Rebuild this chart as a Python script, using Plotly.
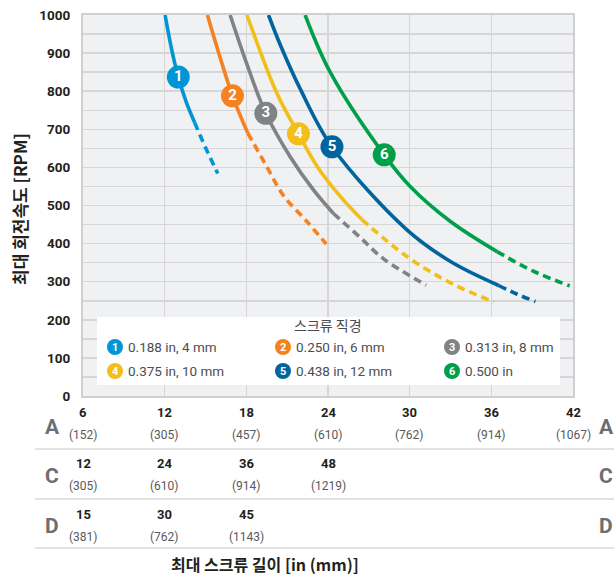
import plotly.graph_objects as go

# ---------------- data ----------------
SERIES_NUM = ["1", "2", "3", "4", "5", "6"]
SERIES_LABELS = ["0.188 in, 4 mm", "0.250 in, 6 mm", "0.313 in, 8 mm",
                 "0.375 in, 10 mm", "0.438 in, 12 mm", "0.500 in"]
COLORS = ["#0096D6", "#F58220", "#808285", "#F2BE1A", "#00649E", "#00A04B"]

# curve 1
c1_solid_x = [12.03, 12.5, 13.0, 13.6, 14.2]
c1_solid_y = [1000, 912, 837, 770, 718]
c1_dash_x = [14.2, 15.0, 15.9]
c1_dash_y = [718, 652, 584]
c1_mark = (13.0, 837)
# curve 2
c2_solid_x = [15.14, 15.95, 16.98, 18.11]
c2_solid_y = [1000, 903, 788, 690]
c2_dash_x = [18.11, 19.5, 20.73, 22.45, 23.87]
c2_dash_y = [690, 602, 526, 458, 399]
c2_mark = (16.98, 788)
# curve 3
c3_solid_x = [16.81, 18.1, 19.43, 21.22, 22.93, 24.4]
c3_solid_y = [1000, 865, 742, 628, 541, 479]
c3_dash_x = [24.4, 26.4, 28.08, 31.22]
c3_dash_y = [479, 415, 360, 291]
c3_mark = (19.43, 742)
# curve 4
c4_solid_x = [18.04, 19.75, 20.49, 21.83, 23.18, 24.9, 26.49]
c4_solid_y = [1000, 836, 776, 688, 604, 524, 463]
c4_dash_x = [26.49, 29.8, 33.0, 36.17]
c4_dash_y = [463, 366, 297, 247]
c4_mark = (21.83, 688)
# curve 5
c5_solid_x = [19.63, 20.49, 21.96, 24.29, 29.8, 33.0, 36.54]
c5_solid_y = [1000, 922, 806, 654, 436, 353, 290]
c5_dash_x = [36.54, 37.9, 39.24]
c5_dash_y = [290, 267, 248]
c5_mark = (24.29, 654)
# curve 6
c6_solid_x = [22.32, 24.16, 28.13, 30.04, 33.0, 36.42]
c6_solid_y = [1000, 850, 633, 550, 458, 379]
c6_dash_x = [36.42, 39.0, 41.76]
c6_dash_y = [379, 329, 289]
c6_mark = (28.13, 633)

CURVES = [
    (c1_solid_x, c1_solid_y, c1_dash_x, c1_dash_y, c1_mark),
    (c2_solid_x, c2_solid_y, c2_dash_x, c2_dash_y, c2_mark),
    (c3_solid_x, c3_solid_y, c3_dash_x, c3_dash_y, c3_mark),
    (c4_solid_x, c4_solid_y, c4_dash_x, c4_dash_y, c4_mark),
    (c5_solid_x, c5_solid_y, c5_dash_x, c5_dash_y, c5_mark),
    (c6_solid_x, c6_solid_y, c6_dash_x, c6_dash_y, c6_mark),
]

Y_TICKS = [0, 100, 200, 300, 400, 500, 600, 700, 800, 900, 1000]
A_TICKS = [6, 12, 18, 24, 30, 36, 42]
A_MM = ["(152)", "(305)", "(457)", "(610)", "(762)", "(914)", "(1067)"]
C_TICKS = [12, 24, 36, 48]
C_MM = ["(305)", "(610)", "(914)", "(1219)"]
D_TICKS = [15, 30, 45]
D_MM = ["(381)", "(762)", "(1143)"]
ROW_NAMES = ["A", "C", "D"]
ROW_SCALE = [1.0, 2.0, 2.5]  # row value per unit of A

Y_TITLE = "최대 회전속도 [RPM]"
X_TITLE = "최대 스크류 길이 [in (mm)]"
LEGEND_TITLE = "스크류 직경"

# ---------------- styling ----------------
NUMF = "Roboto, sans-serif"
KR = "Noto Sans CJK KR, Noto Sans, sans-serif"
W, H = 614, 581
L, T = 83, 15
PW, PH = 490, 381
R, B = W - L - PW, H - T - PH


# helpers: page pixel -> paper coordinate
def px(p):
    return (p - L) / PW


def py(p):
    return (T + PH - p) / PH


fig = go.Figure()

for i, (sx, sy, dx, dy, mk) in enumerate(CURVES):
    fig.add_trace(go.Scatter(x=dx, y=dy, mode="lines",
                             line=dict(color=COLORS[i], width=3.6, dash="8px,5px", shape="spline"),
                             hoverinfo="skip", showlegend=False))
    fig.add_trace(go.Scatter(x=sx, y=sy, mode="lines",
                             line=dict(color=COLORS[i], width=3.6, shape="spline"),
                             hoverinfo="skip", showlegend=False))
for i, (sx, sy, dx, dy, mk) in enumerate(CURVES):
    fig.add_trace(go.Scatter(x=[mk[0]], y=[mk[1]], mode="markers+text", text=[SERIES_NUM[i]],
                             textposition="middle center",
                             textfont=dict(family=NUMF, size=15, color="white", weight="bold"),
                             marker=dict(size=23, color=COLORS[i], line=dict(width=0)),
                             hoverinfo="skip", showlegend=False))

shapes = []
annotations = []

# legend box
shapes.append(dict(type="rect", xref="paper", yref="paper", x0=px(97), x1=px(560), y0=py(385), y1=py(317),
                   fillcolor="white", line=dict(width=0), layer="above"))
annotations.append(dict(xref="paper", yref="paper", x=px(328), y=py(325), text=LEGEND_TITLE, showarrow=False,
                        font=dict(family=KR, size=14, color="#4a4a4c"), xanchor="center", yanchor="middle"))
col_cx = [115, 283, 452]
row_cy = [347, 371]
for i in range(6):
    r, c = divmod(i, 3)
    cx, cy = col_cx[c], row_cy[r]
    shapes.append(dict(type="circle", xref="paper", yref="paper", xsizemode="pixel", ysizemode="pixel",
                       xanchor=px(cx), yanchor=py(cy), x0=-8, x1=8, y0=-8, y1=8,
                       fillcolor=COLORS[i], line=dict(width=0), layer="above"))
    annotations.append(dict(xref="paper", yref="paper", x=px(cx), y=py(cy), text=SERIES_NUM[i], showarrow=False,
                            font=dict(family=NUMF, size=11, color="white", weight="bold"),
                            xanchor="center", yanchor="middle"))
    annotations.append(dict(xref="paper", yref="paper", x=px(cx + 11), y=py(cy), text=SERIES_LABELS[i],
                            showarrow=False, font=dict(family=NUMF, size=13.5, color="#4d4d4f"),
                            xanchor="left", yanchor="middle"))

# table below plot
row_num_y = [412, 463, 514]
row_mm_y = [435, 486, 537]
row_letter_y = [427, 476, 526]
row_ticks = [A_TICKS, C_TICKS, D_TICKS]
row_mm = [A_MM, C_MM, D_MM]
for r in range(3):
    for v, mm in zip(row_ticks[r], row_mm[r]):
        xa = v / ROW_SCALE[r]
        annotations.append(dict(xref="x", yref="paper", x=xa, y=py(row_num_y[r]), text=str(v), showarrow=False,
                                font=dict(family=NUMF, size=13, color="#231f20", weight="bold"),
                                xanchor="center", yanchor="middle"))
        annotations.append(dict(xref="x", yref="paper", x=xa, y=py(row_mm_y[r]), text=mm, showarrow=False,
                                font=dict(family=NUMF, size=12, color="#58595b"),
                                xanchor="center", yanchor="middle"))
    for xx in (52, 606):
        annotations.append(dict(xref="paper", yref="paper", x=px(xx), y=py(row_letter_y[r]), text=ROW_NAMES[r],
                                showarrow=False, font=dict(family=NUMF, size=21, color="#6d6e71", weight="bold"),
                                xanchor="center", yanchor="middle"))
for ly in (449, 499, 548):
    shapes.append(dict(type="line", xref="paper", yref="paper", x0=px(35), x1=px(614), y0=py(ly), y1=py(ly),
                       line=dict(color="#d9d9d9", width=1.5)))

annotations.append(dict(xref="paper", yref="paper", x=px(265), y=py(564), text=X_TITLE, showarrow=False,
                        font=dict(family=KR, size=16, color="#231f20", weight="bold"),
                        xanchor="center", yanchor="middle"))
annotations.append(dict(xref="paper", yref="paper", x=px(19), y=py(209), text=Y_TITLE, showarrow=False,
                        textangle=-90, font=dict(family=KR, size=17, color="#231f20", weight="bold"),
                        xanchor="center", yanchor="middle"))

fig.update_layout(
    width=W, height=H, autosize=False,
    margin=dict(l=L, r=R, t=T, b=B, pad=0),
    paper_bgcolor="white", plot_bgcolor="#f0f1f3",
    shapes=shapes, annotations=annotations,
    showlegend=False,
)
fig.update_xaxes(range=[6, 42], tickvals=A_TICKS, showticklabels=False, showgrid=True, automargin=False,
                 gridcolor="#d6d6d8", gridwidth=1.5, zeroline=False,
                 showline=True, mirror=True, linecolor="#d0d0d0", linewidth=2, ticks="")
fig.update_yaxes(range=[0, 1000], tickvals=Y_TICKS, showgrid=True, automargin=False,
                 gridcolor="#d6d6d8", gridwidth=1.5,
                 minor=dict(dtick=50, showgrid=True, gridcolor="#d6d6d8", gridwidth=1.5),
                 zeroline=False, showline=True, mirror=True, linecolor="#d0d0d0", linewidth=2, ticks="",
                 ticklabelstandoff=8, ticklabeloverflow="allow",
                 tickfont=dict(family=NUMF, size=13.5, color="#231f20", weight="bold"))

fig.write_html("out.html", config={"displayModeBar": False, "staticPlot": True},
               post_script="document.body.style.margin='0';document.body.style.overflow='hidden';")
